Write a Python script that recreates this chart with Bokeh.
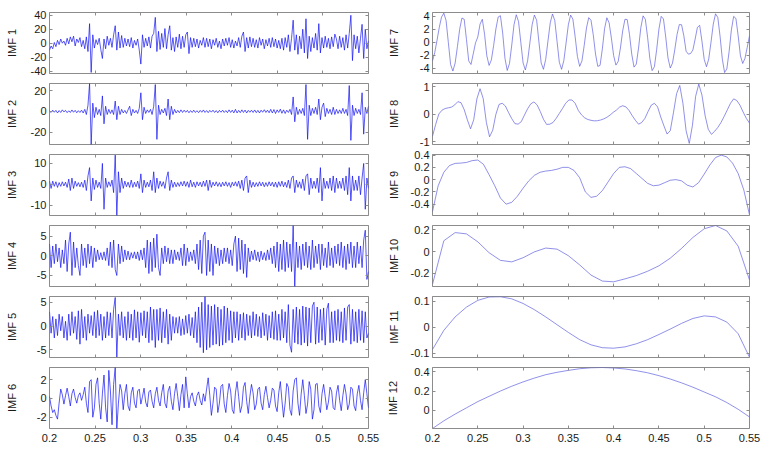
import numpy as np
from bokeh.plotting import figure
from bokeh.layouts import row, column
from bokeh.models import Range1d, FixedTicker, CustomJSTickFormatter, LinearAxis
from bokeh.embed import file_html
from bokeh.resources import INLINE

t_start, t_end = 0.2, 0.55
x_ticks = [0.2, 0.25, 0.3, 0.35, 0.4, 0.45, 0.5, 0.55]

imf1 = [-10, -4, -8, 1, -5, 4, -2, 6, 0, 3,
        -3, 7, -1, 9, 2, 10, -4, 6, 1, 8,
        -5, 4, -8, 9, -12, 28, -42, 12, -7, 5,
        -2, 7, -9, -22, 6, -8, 10, -3, 7, -6,
        12, 25, -10, 16, -7, 11, -6, 7, -4, 6,
        -5, 8, -7, 4, -3, 6, -10, -30, 12, -6,
        7, -4, 9, -7, 10, 14, 37, -12, 17, -9,
        14, -6, 21, -8, 12, 25, -10, 8, -12, 9,
        -6, 13, -8, 10, -6, 12, 16, -15, 8, -6,
        7, -5, 6, -7, 4, -3, 8, -6, 7, -5,
        6, -8, 5, -3, 7, -6, 3, -8, 6, -4,
        7, -3, 8, -6, 5, -7, 3, -4, 8, -6,
        10, 16, -12, 8, -7, 9, -5, 7, -6, 5,
        -7, 8, -3, 6, -8, 5, -4, 7, -6, 8,
        -5, 6, -7, 4, -8, 7, -10, 8, -6, 12,
        -12, 7, 33, -10, 12, -16, 10, -8, 20, -14,
        35, -22, 10, -12, 8, -7, 14, -10, 28, -14,
        8, -7, 10, -6, 7, -8, 9, -5, 13, 6,
        -8, 10, -6, 8, -10, 12, -7, 14, 40, -25,
        12, -8, 10, -14, 7, 27, -22, 20, -8, 3]

imf2 = [0.5, -1, 1.2, -0.8, 1, -1.5, 0.8, -1, 1.5, -0.5,
        1, -1.2, 0.6, -1, 1.4, -0.8, 1, -1.3, 0.7, -1,
        1.2, -1.5, 2, -3, 6, 27, -32, 8, -6, 4,
        -3, 2, -4, 15, -12, 5, -3, 2, -2, 1.5,
        -3, 10, -8, 5, -3, 2, -1.5, 1, -2, 1.5,
        5, -4, 2, -1.5, 1, -2, 3, 18, -8, 4,
        -2, 1.5, -1, 2, -3, 5, 26, -27, 6, -3,
        2, -1.5, 3, -4, 12, -8, 5, -3, 2, -1.5,
        1, -1.2, 1.5, -1, 1.2, -0.8, 1, -1.3, 0.8, -1,
        1.2, -1, 0.7, -1.2, 1, -0.8, 1.4, -1, 0.8, -1.2,
        1, -0.7, 1.2, -1, 0.8, -1.3, 1, -0.8, 1.2, -1,
        0.8, -1.2, 1.5, -1, 1.2, -1.4, 2, -1.5, 1, -1.2,
        1.5, -1, 1.3, -1.5, 1, -0.8, 1.2, -1, 1.4, -1.2,
        1, -1.5, 1.2, -0.8, 1.6, -1, 1.2, -1.3, 2, -1.5,
        1.8, -2, 1.5, -1, 2.2, -1.8, 1.5, -2, 1.2, -1,
        2, -3, 14, -10, 4, -3, 2, -2, 3, -4,
        26, -27, 6, -4, 3, -2, 4, -3, 12, -8,
        4, 8, -5, 3, -2, 2, -3, 4, -3, 2,
        -2, 1.5, -2, 3, -2, 2, -4, 25, -28, 6,
        -4, 3, -2, 2, -3, 18, -22, 4, -2, 5]

imf3 = [1.5, -2, 1.5, -1, 1.2, -1.5, 0.8, -1, 1.2, -0.8,
        1, -1.5, 2.5, -3, 3, -2, 1.5, -1, 0.8, -1.2,
        1, -1.5, 2, -3, 4, 8, -8, 3, -2.5, 2,
        -1.5, 1, -2, 10, -12, 3, -1.5, 1.2, -1, 2,
        -4, 14, -15, 6, -4, 3, -2, 1.5, -1.2, 1,
        -1.5, 2, -1.5, 1, -1.2, 1.5, -2, 5, -4, 2,
        -1.5, 1, -1.2, 2, -3, 6, -4, 3, -2, 1.5,
        -1, 1.2, -2, 3, 6, -3, 2, -1.5, 1, -1.2,
        0.8, -1, 1.2, -0.8, 1.5, -1, 1.2, -1.5, 2, -1.2,
        1, -1.5, 1.2, -0.8, 1, -1.2, 1.5, -1, 2, -3,
        2, -1.5, 1, -0.8, 1.2, -1, 0.8, -1.2, 1, -0.8,
        1.2, -1, 0.8, -1.5, 1, -0.8, 1.2, -1, 1.5, -2,
        2, -3, 3, 4, -4, 2, -1.5, 1, -1.2, 0.8,
        -1, 1.2, -0.8, 1, -1.2, 0.8, -1, 1.2, -0.8, 1,
        -1.2, 1, -1.5, 1.2, -1, 1.5, -1.2, 1, -1.5, 2,
        -2, 3, 4, -4, 2, -1.5, 1.2, -2, 2.5, -3,
        4, 5, -5, 3, -2, 1.5, -2, 3, -4, 8,
        -8, 3, -2, 1.5, -2, 3, -3, 4, -4, 3,
        -2, 1.5, -2, 3, -3, 4, -5, 8, -8, 4,
        -3, 2, -3, 4, -5, 3, 10, -12, 3, -2]

imf4 = [3, -3, 2.5, -2, 3, -1.5, 2, -3, 1.5, -2,
        4, -4, 3, 6, -5, 3.5, -3, 2, -2.5, -5,
        3, -2.5, 2, -3, 3, -2, 2.5, -3, 2, -1.5,
        1.5, -1, 0.8, -1, 1, -1.2, 2, -2.5, 3.5, -3,
        4, -3.5, -5, 3, -2, 2.5, -1.5, 1.5, -1, 1.2,
        -1, 0.8, -0.6, 1, -0.8, 1, -1.2, 1.5, -1, 2,
        -3, 4, -4.5, 3.5, -4, 4.5, -3, 5.5, -3, -5,
        2, -2, 2.5, -1.5, 2, -2, 1.5, -2, 1.5, -1,
        1, -1.2, 2, -2.5, 3, -2.5, 2, -1.5, 1, -1.2,
        1.5, -2, 3, -3.5, 4, -4.5, 5, 6, -5, 4,
        -4, 3, -5, 2.5, -2, 2, -2.5, 1.5, -2, 2,
        -1.5, 2, -2, 1.5, -2.5, 3, 5, -4, 4.5, -3.5,
        4, -4.5, 3, -5.5, 2, -1.5, 1.2, -1, 1.5, -1.2,
        1, -1.5, 1.2, -1, 0.8, -1.2, 1.5, -1, 2, -2,
        2.5, -3, 3.5, -4, 3, -3.5, 4, -4, 3.5, -3,
        3, -4, 7.7, -7.8, 3.5, -3, 2.5, -3.5, 3, -2.5,
        3.5, -3, 2.5, -3.5, 4, -3, 2.5, -2, 3, -3.5,
        3, -2.5, 2, -3, 3.5, -2.5, 2, -3, 2.5, -2,
        3, -2.5, 3.5, -3, 2.5, -3.5, 3, -2, 3.5, -3,
        2.5, -3, 3.5, -2, 2.5, -3, 4, 6.5, -6, -4]

imf5 = [3, -1.5, 2, -2.5, 1.5, -2, 2.5, -1, 2, -2.5,
        1, -3, 2.5, -2, 3, -1.5, 2, -2.8, 3.2, -3.8,
        3.5, -2.5, 2, -3, 2.5, -1.5, 2.2, -2, 3, -2.5,
        3.3, -2, 2.5, -3, 2, -2.5, 3, -2, 2.8, -2.5,
        3.5, 6, -6.5, 2.5, -2, 3, -2.5, 2, -3, 3,
        -2.5, 2.5, -3, 3.4, -2.5, 3, -3.4, 2.8, -2, 3.2,
        -2.5, 3, -3.5, 4, -3, 3.5, -4.5, 3.5, -3, 3.8,
        -3.5, 3, -2.5, 3.5, -3.8, 2.5, -3, 2, -1.5, 1.8,
        -1.5, 2, -2, 1.5, -1.8, 2.2, -1.5, 2.5, -2, 1.8,
        -2.5, 3, -3.5, 4, -4.5, 5, -5.6, 6.2, -5, 4.5,
        -4.5, 4.2, -4, 4.5, -3.8, 4, -4.2, 3.5, -4, 4.2,
        -3.5, 3.8, -3, 3.2, -3.5, 3, -2.5, 3, -3, 2.5,
        -2.5, 2.8, -3, 2.5, -2, 2.2, -2.5, 3, -2, 2.5,
        -2.2, 2, -2.5, 2.8, -2, 2.5, -3, 2.2, -2.5, 3,
        -2.8, 3.2, -3, 2.5, -3, 3.5, -2.5, 3, -3.5, 4.5,
        -4, -5.5, 3.5, -3.5, 4, -3.8, 3.5, -4, 4.2, -3.5,
        4, -4.2, 3.8, -3.5, 4.2, 5, -3.8, 4, -3.5, 3.5,
        -3, 3.8, -4, 3.5, 4.8, -3.5, 3, -3.5, 3.2, -3,
        3.5, -3.2, 3, -3.5, 3.8, -3, 4, 4.5, -3.8, 3.5,
        -3.2, 3, -3.5, 3.5, -3, 3.2, -3.5, 3, -2.5, -1.5]

imf6 = [0.2, -0.8, -1.5, -1.2, -1.8, -2.2, -0.5, 1.0, 0.4, -0.6,
        0.3, 1.1, 0.2, -0.8, 0.5, 1.0, 0.1, -0.5, 0.3, 0.6,
        -0.2, 0.4, 1.2, -0.5, -1.5, 1.8, 2.0, -2.0, -1.0, 1.5,
        2.2, -0.5, -2.2, 0.5, 2.5, -1.0, -2.5, 3.0, 0.8, -2.8,
        1.5, 3.3, -3.2, -0.5, 1.5, 0.8, -1.2, 0.5, 1.5, -0.8,
        -1.3, 0.6, 1.2, -0.5, -1.0, 0.8, 1.0, -0.6, 0.2, 1.1,
        -0.4, -0.9, 0.7, 0.9, -0.3, -1.0, 0.5, 1.2, -0.2, -0.8,
        0.6, 1.5, -0.5, -1.0, 0.8, 1.3, -0.3, -1.2, 0.5, 1.6,
        0.2, -1.3, 0.4, 1.5, -1.0, 2.3, 0.5, -1.0, 0.2, 0.6,
        -0.3, -0.8, 0.3, 0.7, -0.2, -0.7, 0.5, -0.3, 1.0, 2.2,
        0.3, -1.8, -0.5, 1.2, 1.0, -1.5, -0.5, 1.3, 1.5, -0.6,
        -1.5, 0.3, 1.6, 0.8, -1.2, -1.6, 0.6, 1.8, 0.2, -1.5,
        -0.8, 1.2, 1.7, -0.3, -1.6, 0.2, 1.5, 0.6, -1.2, -0.6,
        1.0, 1.2, -0.5, -1.2, 0.4, 1.3, 0.1, -1.0, -0.2, 1.1,
        0.9, -0.8, -1.4, 0.6, 1.8, -0.2, -2.0, -0.5, 1.6, 1.2,
        -1.2, -1.8, 0.8, 2.0, 2.2, -0.5, -1.8, 0.5, 2.0, 0.3,
        -1.6, -0.6, 1.8, 1.0, -2.2, -1.2, 1.5, 1.6, -0.8, -1.5,
        0.5, 1.5, 0.2, -1.2, -0.4, 1.2, 0.8, -1.0, -1.2, 0.6,
        1.4, -0.2, -1.3, 0.3, 1.5, 0.5, -1.2, -0.6, 1.2, 1.0,
        -0.8, -1.3, 0.5, 1.4, -0.2, -1.2, 0.6, 2.0, 0.5, -1.0]

imf7 = [-2.9, -1.6, 0.3, 2.3, 3.9, 4.5, 3.35, -0.06, -3.47, -4.47,
        -3.23, -0.7, 2.0, 3.75, 3.55, 0.43, -2.9, -3.45, -1.8, -0.1,
        0.8, 2.8, 3.55, 1.22, -2.12, -3.6, -2.75, -0.52, 2.05, 3.9,
        4.1, 1.4, -2.5, -4.38, -3.3, -0.44, 2.7, 4.25, 3.2, 0.0,
        -3.2, -4.3, -2.9, -0.13, 2.7, 4.2, 3.4, 0.05, -3.2, -4.2,
        -2.65, 0.2, 3.0, 4.37, 3.37, 0.15, -3.1, -4.2, -2.85, -0.12,
        2.7, 4.2, 3.57, 0.85, -2.2, -3.75, -2.9, -0.5, 2.2, 3.8,
        3.4, 1.15, -1.83, -3.75, -3.6, -1.08, 2.1, 3.78, 3.0, 0.64,
        -2.08, -3.55, -3.0, -0.9, 1.77, 3.55, 3.5, 1.2, -1.87, -3.86,
        -3.4, -0.9, 2.24, 4.08, 3.55, 0.76, -2.54, -4.4, -3.8, -1.15,
        2.03, 4.0, 3.6, 0.8, -2.44, -4.0, -3.24, -1.17, 1.18, 2.73,
        2.7, 1.0, -1.4, -1.85, -1.75, -1.2, 0.5, 2.3, 2.6, 0.16,
        -2.66, -3.8, -2.6, 0.0, 2.8, 4.4, 3.83, 0.92, -2.62, -4.7,
        -4.13, -1.45, 1.9, 4.0, 3.68, 0.99, -2.1, -3.3, -2.5, -0.8,
        1.0]

imf8 = [-0.8, -0.37, 0.01, 0.15, 0.21, 0.235, 0.26, 0.34, 0.46, 0.42,
        0.17, -0.2, -0.53, -0.2, 0.56, 0.93, 0.57, -0.3, -0.82, -0.58,
        0.0, 0.36, 0.4, 0.3, 0.06, -0.16, -0.34, -0.36, -0.27, -0.03,
        0.2, 0.38, 0.45, 0.34, 0.1, -0.18, -0.37, -0.36, -0.3, -0.15,
        0.03, 0.21, 0.4, 0.52, 0.52, 0.4, 0.14, -0.02, -0.13, -0.19,
        -0.22, -0.24, -0.235, -0.21, -0.17, -0.11, -0.03, 0.07, 0.15, 0.26,
        0.31, 0.27, 0.14, -0.05, -0.22, -0.36, -0.3, -0.15, 0.1, 0.33,
        0.4, 0.27, -0.1, -0.42, -0.72, -0.6, 0.05, 0.75, 1.05, 0.4,
        -0.6, -1.06, -0.4, 0.65, 1.1, 0.7, -0.05, -0.55, -0.73, -0.62,
        -0.48, -0.3, -0.08, 0.16, 0.4, 0.56, 0.5, 0.33, 0.08, -0.15,
        -0.32]

imf9 = [-0.52, -0.1, 0.12, 0.23, 0.265, 0.27, 0.28, 0.31, 0.32, 0.25,
        0.08, -0.1, -0.3, -0.4, -0.37, -0.27, -0.14, -0.02, 0.07, 0.12,
        0.14, 0.15, 0.17, 0.2, 0.2, 0.15, 0.03, -0.2, -0.29, -0.27,
        -0.18, -0.04, 0.1, 0.2, 0.21, 0.18, 0.1, 0.02, -0.06, -0.1,
        -0.09, -0.05, -0.01, 0.0, -0.02, -0.09, -0.12, -0.05, 0.09, 0.24,
        0.36, 0.4, 0.37, 0.27, 0.1, -0.17, -0.575]

imf10 = [-0.30, 0.10, 0.175, 0.163, 0.09, -0.01, -0.08, -0.094, -0.056, -0.002,
         0.033, 0.023, -0.037, -0.122, -0.215, -0.27, -0.277, -0.25, -0.22, -0.18,
         -0.13, -0.06, 0.03, 0.13, 0.21, 0.24, 0.19, 0.05, -0.26]

imf11 = [-0.086, -0.012, 0.04, 0.078, 0.104, 0.117, 0.118, 0.11, 0.092, 0.068,
         0.04, 0.01, -0.02, -0.048, -0.068, -0.079, -0.081, -0.076, -0.064, -0.048,
         -0.028, -0.007, 0.015, 0.034, 0.044, 0.04, 0.02, -0.025, -0.116]

imf12 = [-0.19, -0.11, -0.04, 0.025, 0.09, 0.145, 0.2, 0.25, 0.295, 0.335,
         0.37, 0.395, 0.415, 0.432, 0.442, 0.445, 0.44, 0.43, 0.412, 0.39,
         0.36, 0.325, 0.285, 0.24, 0.19, 0.14, 0.08, 0.01, -0.07]

imf_labels = ["IMF 1", "IMF 2", "IMF 3", "IMF 4", "IMF 5", "IMF 6",
              "IMF 7", "IMF 8", "IMF 9", "IMF 10", "IMF 11", "IMF 12"]
imf_series = [imf1, imf2, imf3, imf4, imf5, imf6,
              imf7, imf8, imf9, imf10, imf11, imf12]
imf_yticks = [[-40, -20, 0, 20, 40], [-20, 0, 20], [-10, 0, 10], [-5, 0, 5],
              [-5, 0, 5], [-2, 0, 2], [-4, -2, 0, 2, 4], [-1, 0, 1],
              [-0.4, -0.2, 0, 0.2, 0.4], [-0.2, 0, 0.2], [-0.1, 0, 0.1],
              [0, 0.2, 0.4]]
imf_ylims = [(-43.5, 44), (-32, 27), (-15, 14.3), (-7.8, 7.7), (-6.6, 6.2),
             (-3.2, 3.3), (-4.85, 4.6), (-1.1, 1.12), (-0.585, 0.41),
             (-0.32, 0.24), (-0.117, 0.119), (-0.19, 0.445)]

FONT = "Liberation Sans"
FMT = "return String(Math.round(tick*1000)/1000);"
BOX = "#8c8c8c"
# gap between tick labels and the "IMF n" title, per panel
LABEL_GAP = [10, 10, 10, 16, 16, 16, 17, 17, 8, 8, 8, 12]


def style_axis(ax, ticks, show_labels):
    ax.ticker = FixedTicker(ticks=ticks)
    ax.formatter = CustomJSTickFormatter(code=FMT)
    ax.major_tick_in = 3
    ax.major_tick_out = 0
    ax.minor_tick_line_color = None
    ax.major_tick_line_color = BOX
    ax.axis_line_color = None
    ax.major_label_text_font = FONT
    if show_labels:
        ax.major_label_text_color = "#1a1a1a"
        ax.major_label_text_font_size = "11px"
        ax.major_label_standoff = 3
    else:
        ax.major_label_text_color = None
        ax.major_label_text_font_size = "1px"
        ax.major_label_standoff = 0


def make_panel(idx, side, row_i):
    vals = imf_series[idx]
    t = np.linspace(t_start, t_end, len(vals))
    last = row_i == 5
    if side == "left":
        bl, br, fw = 49, 12, 319
        color, lw, alpha = "#0a0af2", 0.85, 0.8
    else:
        bl, br, fw = 52, 12, 317
        color, lw, alpha = "#5252dc", 0.8, 0.8
    bt = 12 if row_i == 0 else 6
    bb = 20 if last else 4
    fh = 61
    p = figure(width=bl + fw + br, height=bt + fh + bb,
               x_range=Range1d(t_start, t_end),
               y_range=Range1d(*imf_ylims[idx]),
               output_backend="svg", toolbar_location=None,
               min_border_left=bl, min_border_right=br,
               min_border_top=bt, min_border_bottom=bb)
    p.grid.visible = False
    p.outline_line_color = BOX
    p.outline_line_width = 1
    p.background_fill_color = "white"
    p.border_fill_color = "white"
    p.line(t, vals, line_color=color, line_width=lw, line_alpha=alpha)

    style_axis(p.xaxis[0], x_ticks, last)
    if last:
        p.xaxis[0].major_label_standoff = 5
    style_axis(p.yaxis[0], imf_yticks[idx], True)
    p.yaxis[0].axis_label = imf_labels[idx]
    p.yaxis[0].axis_label_text_font = FONT
    p.yaxis[0].axis_label_text_font_size = "11px"
    p.yaxis[0].axis_label_text_font_style = "normal"
    p.yaxis[0].axis_label_text_color = "#1a1a1a"
    p.yaxis[0].axis_label_standoff = LABEL_GAP[idx]

    top = LinearAxis()
    style_axis(top, x_ticks, False)
    p.add_layout(top, "above")
    right = LinearAxis()
    style_axis(right, imf_yticks[idx], False)
    p.add_layout(right, "right")
    return p


left_col = column([make_panel(i, "left", i) for i in range(6)], spacing=0)
right_col = column([make_panel(i, "right", i - 6) for i in range(6, 12)], spacing=0)
layout = row([left_col, right_col], spacing=0)

open("out.html", "w").write(file_html(layout, INLINE))
